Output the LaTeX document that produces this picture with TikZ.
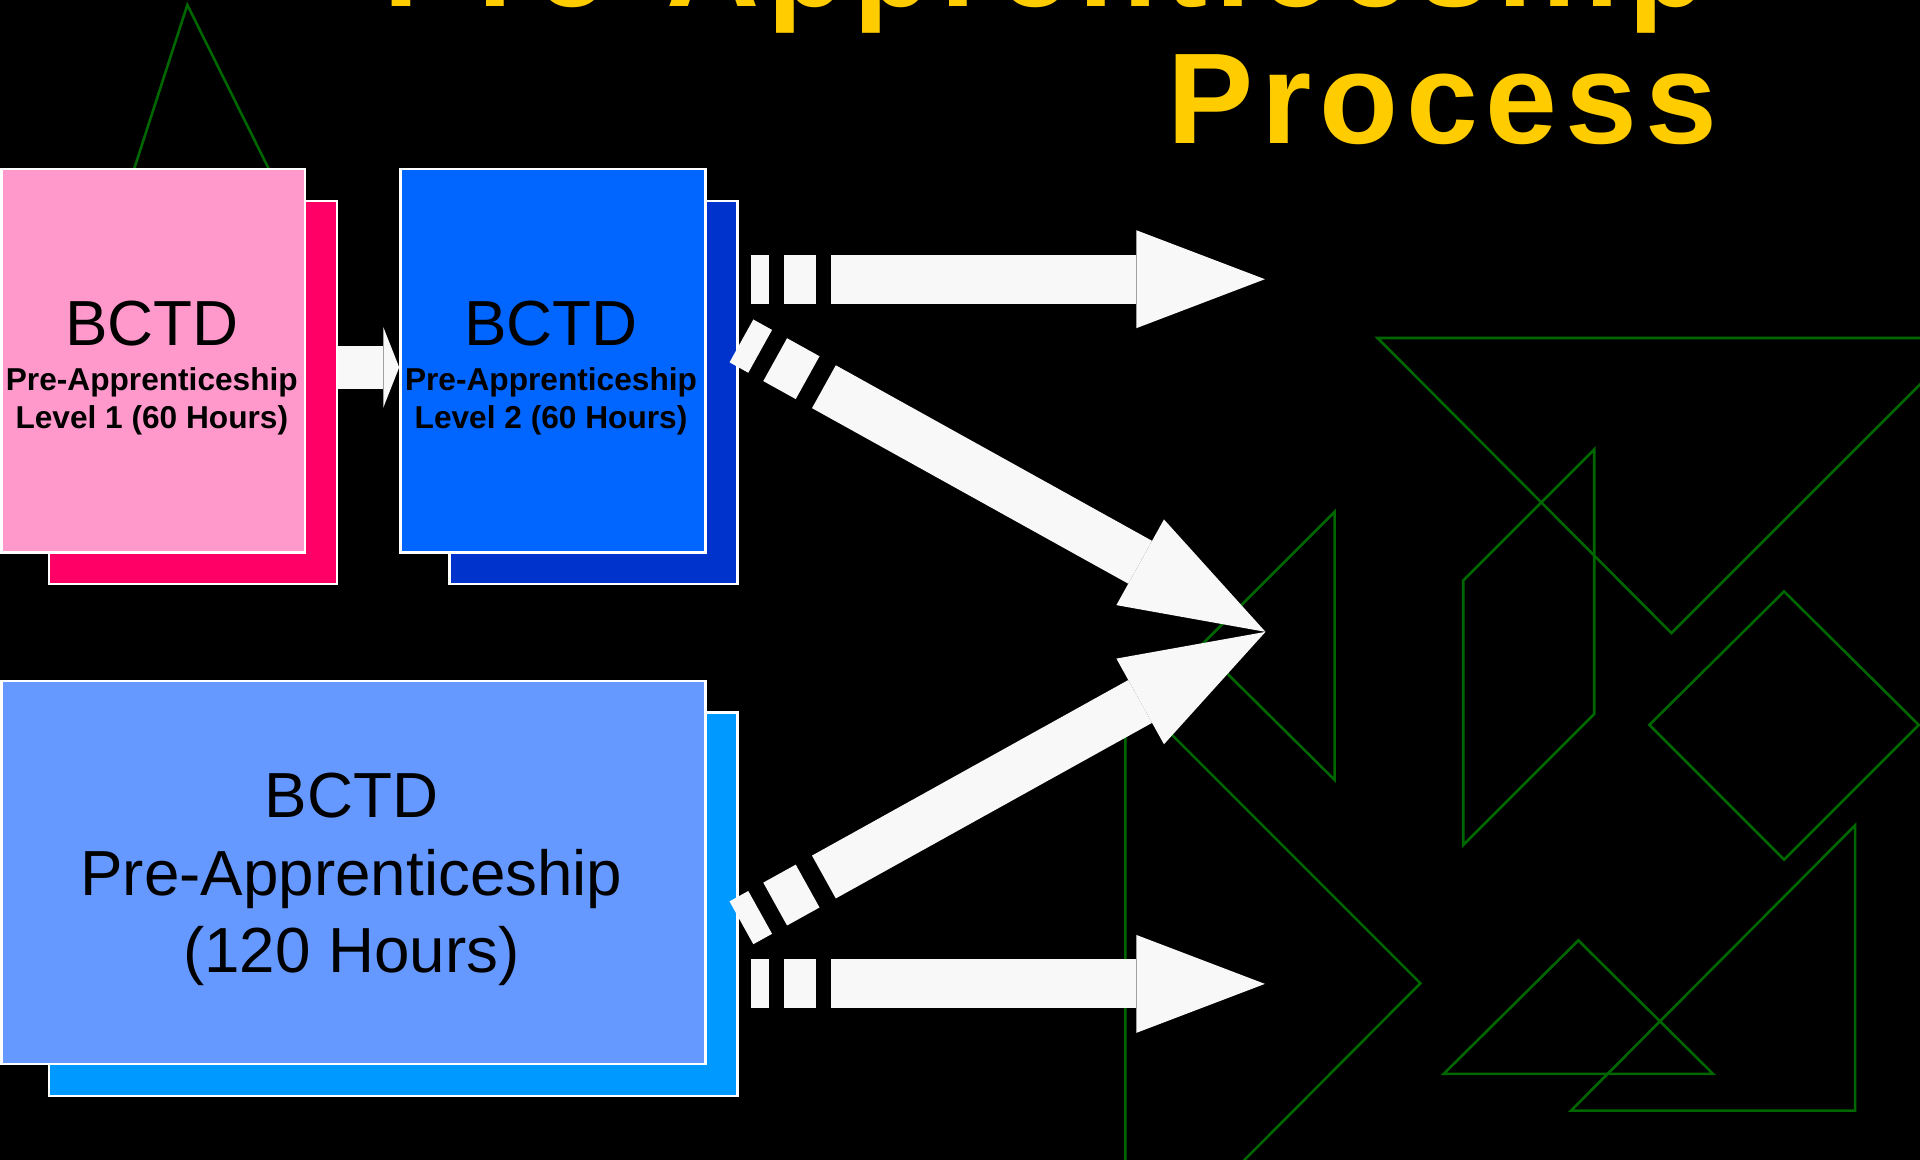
\documentclass[tikz,border=0pt]{standalone}
\usepackage{fontspec}
\setmainfont{Liberation Sans}
\newfontfamily\titlefont[LetterSpace=6]{Liberation Sans}
\usetikzlibrary{arrows.meta,positioning}
\definecolor{titleyellow}{HTML}{FFCC00}
\definecolor{pinkfront}{HTML}{FF99CC}
\definecolor{pinkback}{HTML}{FF0066}
\definecolor{bluefront}{HTML}{0066FF}
\definecolor{blueback}{HTML}{0033CC}
\definecolor{skyfront}{HTML}{6699FF}
\definecolor{skyback}{HTML}{0099FF}
\definecolor{tangram}{HTML}{006600}
\definecolor{arrowwhite}{HTML}{F8F8F8}
\tikzstyle{card}=[rectangle,draw=white,line width=0.6pt,inner sep=0pt,anchor=north west]
\tikzstyle{tanline}=[draw=tangram,line width=0.6pt]
\tikzstyle{titletext}=[anchor=base east,inner sep=0pt,text=titleyellow,font=\titlefont\bfseries\fontsize{30}{36}\selectfont]
\tikzstyle{bigtext}=[anchor=base,inner sep=0pt,font=\fontsize{14.8}{17.6}\selectfont]
\tikzstyle{smalltext}=[anchor=base,inner sep=0pt,font=\bfseries\fontsize{7.35}{9}\selectfont]
\tikzset{gaparrow/.style={draw=arrowwhite,line width=0.35cm,-{Triangle[width=0.66cm,length=0.13cm,line width=0pt]}}}
\tikzset{fatarrow/.style={draw=arrowwhite,line width=0.4cm,-{Triangle[width=0.8cm,length=1.05cm,line width=0pt]},
  dash pattern=on 0.15cm off 0.12cm on 0.26cm off 0.13cm on 20cm}}
\tikzset{slantarrow/.style={draw=arrowwhite,line width=0.4cm,-{Triangle[width=0.8cm,length=1.17cm,line width=0pt]},
  dash pattern=on 0.175cm off 0.14cm on 0.303cm off 0.152cm on 20cm}}
\begin{document}
\begin{tikzpicture}[x=0.01cm,y=-0.01cm]

  \def\u{0.01cm};

  \fill[black] (0,0) rectangle (1568,947);
  \useasboundingbox (0,0) rectangle (1568,947);

  \draw[tanline] (153,4) -- (104,155) -- (228,155) -- cycle;
  \draw[tanline] (1125,276) -- (1606,276) -- (1365,517) -- cycle;
  \draw[tanline] (1195,474) -- (1302,367) -- (1302,583) -- (1195,690) -- cycle;
  \draw[tanline] (1457,483) -- (1567,592) -- (1457,702) -- (1347,592) -- cycle;
  \draw[tanline] (1090,418) -- (1090,637) -- (980,528) -- cycle;
  \draw[tanline] (919,562) -- (1160,803) -- (919,1045) -- cycle;
  \draw[tanline] (1289,768) -- (1399,877) -- (1179,877) -- cycle;
  \draw[tanline] (1515,674) -- (1515,907) -- (1283,907) -- cycle;

  \foreach \x/\y/\w/\name/\col in {39/163/235/cardAback/pinkback, 0/137/248/cardA/pinkfront,
      366/163/235/cardBback/blueback, 326/137/249/cardB/bluefront,
      39/581/562/cardCback/skyback, 0/555/575/cardC/skyfront}
        \node[card,fill=\col,minimum width=\w*\u,minimum height=313*\u] (\name) at (\x,\y) {};

  \foreach \x/\name/\lvl in {124/cardA/1, 450/cardB/2} {
        \node[bigtext] (\name-t1) at (\x,282) {BCTD};
        \node[smalltext] (\name-t2) at (\x,319) {Pre-Apprenticeship};
        \node[smalltext] (\name-t3) at (\x,350) {Level \lvl\ (60 Hours)};
  }
  \foreach \y/\name/\label in {668/cardC-t1/BCTD, 731/cardC-t2/Pre-Apprenticeship, 794/cardC-t3/{(120 Hours)}}
        \node[bigtext] (\name) at (287,\y) {\label};

  \node[titletext] (titleA) at (1395,5) {Pre-Apprenticeship};
  \node[titletext] (titleB) at (1403,117) {Process};

  \coordinate (gapY) at (0,300);
  \coordinate (topTail) at (613,228);
  \coordinate (topTip) at (1033,228);
  \coordinate (upTail) at (605.5,278.4);
  \coordinate (meetTip) at (1033.5,516);
  \coordinate (lowTail) at (605.5,753.6);
  \coordinate (botTail) at (613,803.5);
  \coordinate (botTip) at (1033,803.5);

  \draw[gaparrow] (cardAback.east |- gapY) -- (cardB.west |- gapY);
  \foreach \source/\dest in {topTail/topTip, botTail/botTip}
        \draw[fatarrow] (\source) -- (\dest);
  \foreach \source/\dest in {upTail/meetTip, lowTail/meetTip}
        \draw[slantarrow] (\source) -- (\dest);

\end{tikzpicture}
\end{document}
